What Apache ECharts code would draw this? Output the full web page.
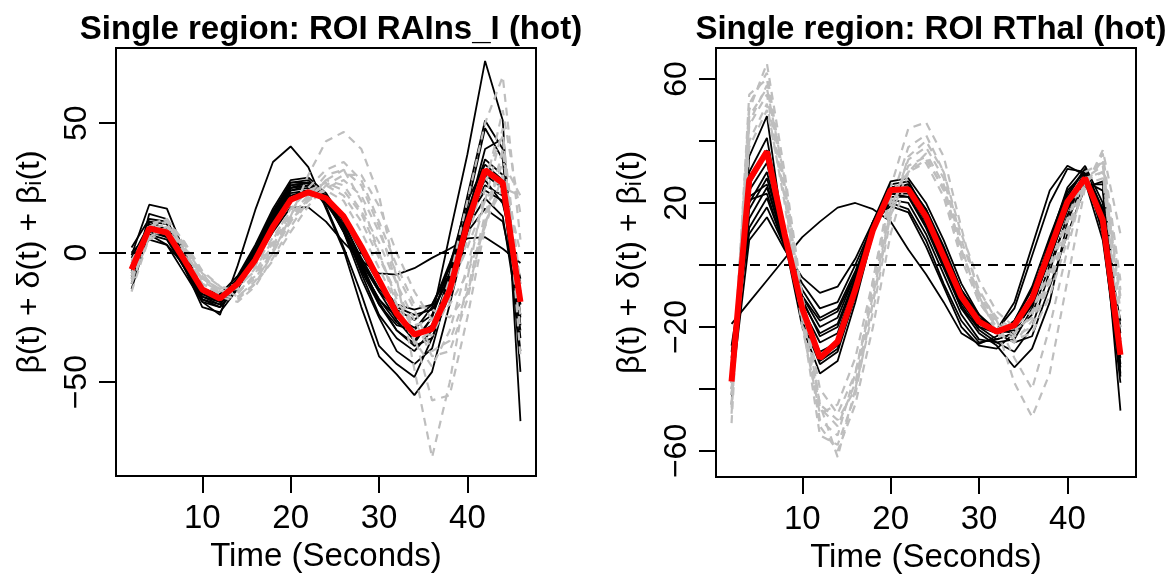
<!DOCTYPE html>
<html>
<head>
<meta charset="utf-8">
<script src="https://cdn.jsdelivr.net/npm/echarts@6/dist/echarts.min.js"></script>
<style>html,body{margin:0;padding:0;background:#fff}#c{width:1171px;height:575px}</style>
</head>
<body>
<div id="c"></div>
<script>
// ---------- data ----------
const time = [2,4,6,8,10,12,14,16,18,20,22,24,26,28,30,32,34,36,38,40,42,44,46];

const titleLeft = 'Single region: ROI RAIns_I (hot)';
const titleRight = 'Single region: ROI RThal (hot)';
const xName = 'Time (Seconds)';
const yName = 'β(t) + δ(t) + βᵢ(t)';
const xTicks = [10, 20, 30, 40];
const yTicksLeft = [-50, 0, 50];
const yTicksRight = [-60, -40, -20, 0, 20, 40, 60];
const yLabelsRight = [-60, -20, 20, 60];

// Left panel (RAIns_I)
const leftMean = [-6.5, 9.4, 7.8, -3, -14.2, -17.7, -12, -2.8, 10, 20.4, 23.3, 21, 14, 2.3, -10.6, -23.5, -31.6, -29.4, -14.5, 11.4, 31.8, 26.9, -19];
const leftB1  = [-10, 12, 9, -4, -16, -19, -12, 0, 14, 25, 26, 20, 10, -5, -20, -30, -35, -25, 7, 38, 74, 51, -65];
const leftB2  = [0, 7, 3, -8, -19, -24, -5, 16.5, 35, 41, 33, 17, 1, -21, -40, -47, -55, -46, -20, 8, 30, 28, -25];
const leftB3  = [-3, 5, 3, -5, -15, -18, -12, -3, 8, 17.5, 17.5, 12, 4, -3, -8, -8.5, -6, -2, 1.5, 5.5, 6, 1.5, -4];
const leftB4  = [-12, 15, 13, -3, -18, -20, -11, 1, 15, 26, 27, 22, 10, -8, -24, -33, -38, -30, -8, 22, 51, 40, -46];
const leftB5  = [-8, 12, 11, -2, -16, -18, -10, 2, 16, 27, 28, 21, 8, -10, -25, -38, -43, -37, -12, 18, 48, 36, -33];
const leftB6  = [-5, 10, 9, -3, -15, -17, -11, 0, 14, 26, 27, 22, 10, -6, -18, -27, -32, -28, -10, 16, 36, 30, -24];
const leftB7  = [-14, 8, 6, -6, -19, -21, -14, -2, 12, 24, 26, 22, 12, -3, -15, -26, -34, -25, -5, 20, 34, 28, -20];
const leftB8  = [-2, 11, 9, -4, -17, -19, -12, -1, 13, 25, 26, 20, 8, -7, -20, -28, -30, -21, -4, 14, 26, 22, -15];
const leftB9  = [-6, 9, 7, -5, -15, -17, -10, 0, 13, 24, 25, 19, 9, -4, -15, -22, -26, -20, -6, 13, 24, 20, -12];
const leftB10 = [2, 13, 12, -1, -14, -18, -10, 2, 15, 27, 27, 21, 8, -6, -18, -25, -29, -24, -8, 10, 21, 14, -30];
const leftB11 = [-9, 7, 5, -6, -17, -20, -12, -2, 11, 23, 24, 20, 11, -2, -14, -21, -24, -22, -10, 8, 17, 12, -20];
const leftB12 = [-4, 10, 8, -5, -18, -21, -13, -2, 12, 25, 27, 18, 2, -16, -36, -43, -48, -33, -12, 12, 30, 25, -38];
const leftB13 = [-1, 18.5, 17, 0, -14, -16, -9, 3, 17, 28, 29, 23, 12, -4, -19, -30, -36, -33, -16, 14, 40, 44, -28];
const leftB14 = [-7, 9, 6, -6, -21, -23, -14, -3, 10, 22, 24, 21, 13, 0, -12, -20, -22, -20, -8, 16, 28, 19, -10];
const leftG1  = [-12, 6, 12, 4, -8, -16, -18, -12, 0, 14, 30, 43, 46.6, 40, 22, -10, -45, -79, -50, -10, 25, 55, 15];
const leftG2  = [-5, 10, 12, 2, -10, -14, -16, -8, 4, 15, 22, 30, 32, 20, 0, -20, -35, -30, -10, 20, 50, 68, 5];
const leftG3  = [-15, 6, 10, 3, -9, -17, -19, -13, -2, 10, 20, 28, 32, 26, 10, -12, -32, -57, -55, -25, 10, 40, -20];
const leftG4  = [-3, 9, 11, 1, -11, -15, -14, -6, 5, 17, 24, 27, 24, 15, 0, -18, -30, -32, -18, 5, 30, 45, -12];
const leftG5  = [-8, 11, 13, 4, -7, -13, -17, -11, 0, 12, 20, 25, 28, 22, 8, -8, -22, -38, -34, -15, 15, 35, 22];
const leftG6  = [-10, 5, 9, 1, -12, -16, -15, -9, 2, 13, 22, 26, 22, 12, -2, -16, -28, -26, -14, 2, 20, 30, -30];
const leftG7  = [-6, 8, 10, 0, -10, -14, -12, -5, 6, 16, 25, 32, 35, 28, 12, -5, -20, -22, -25, -16, 12, 25, 22];
const leftG8  = [-11, 7, 8, -1, -12, -16, -13, -7, 3, 14, 21, 24, 20, 8, -6, -20, -34, -44, -30, -5, 20, 48, -40];
const leftG9  = [-4, 10, 13, 3, -9, -15, -17, -12, -3, 8, 18, 26, 30, 30, 18, 0, -15, -26, -20, -8, 10, 30, 0];
const leftG10 = [-9, 9, 11, 2, -8, -13, -15, -10, 1, 12, 21, 28, 26, 16, 4, -12, -26, -40, -38, -18, 12, 40, -25];

// Right panel (RThal)
const rightMean = [-37.6, 27.4, 36.6, 10, -14, -30, -24.7, -8, 11.3, 24.2, 24.4, 15.6, 2.7, -10.2, -18.3, -21.5, -19.4, -10.8, 4.8, 20.4, 28, 14.5, -29];
const rightB0  = [-19, -12, -5, 2, 9, 14, 18.5, 20, 18, 14, 5, -3, -12, -22, -25.5, -23, -18, -8, 6, 18, 27, 8, -33];
const rightB1  = [-45, 35, 48, 8, -20, -35, -31, -12, 10, 26, 27, 17, 3, -12, -20, -24, -22, -12, 5, 22, 31, 18, -47];
const rightB2  = [-38, 30, 41, 9, -18, -32, -28, -10, 11, 25, 25, 16, 2, -11, -19, -22, -20, -10, 8, 25, 32, 20, -36];
const rightB3  = [-34, 24, 33, 8, -15, -28, -25, -8, 12, 24, 24, 15, 1, -13, -21, -25, -28, -20, -2, 16, 29, 15, -30];
const rightB4  = [-30, 20, 30, 7, -14, -25, -22, -6, 13, 23, 23, 14, 0, -14, -22, -26, -33, -27, -12, 14, 28, 12, -25];
const rightB5  = [-36, 18, 28, 8, -12, -22, -19, -4, 14, 25, 26, 18, 5, -8, -17, -21, -14, 3, 20, 31, 30, 18, -20];
const rightB6  = [-28, 15, 25, 7, -10, -20, -17, -3, 13, 22, 22, 13, 0, -12, -19, -21, -12, 6, 24, 32, 29, 15, -28];
const rightB7  = [-32, 12, 21.6, 6, -8, -17, -14, -2, 12, 21, 20, 10, -3, -16, -24, -25, -24, -14, 3, 20, 30, 10, -38];
const rightB8  = [-26, 10, 18.6, 6, -6, -14, -12, 0, 13, 20, 18, 8, -6, -18, -25, -24, -22, -10, 7, 23, 31, 14, -22];
const rightB9  = [-40, 8, 15.4, 5, -4, -9, -7, 2, 14, 19, 17, 6, -7, -20, -26, -27, -22, -12, 2, 18, 29, 11, -18];
const rightB10 = [-42, 28, 37, 9, -16, -30, -26, -9, 10, 24, 25, 17, 4, -10, -18, -22, -21, -13, 2, 18, 27, 24, -32];
const rightB11 = [-35, 26, 36, 10, -15, -31, -27, -10, 11, 25, 26, 18, 6, -8, -16, -21, -22, -16, 0, 15, 26, 26, -35];
const rightB12 = [-33, 22, 26, 7, -11, -23, -20, -5, 13, 23, 22, 12, -1, -14, -20, -22, -18, -7, 9, 24, 30, 17, -27];
const rightB13 = [-37, 21, 23, 6, -10, -18, -15, -3, 14, 27, 28, 20, 8, -6, -16, -22, -25, -23, -7, 10, 25, 27, -24];
const rightG1  = [-51, 50, 65, 30, -10, -45, -62, -40, -5, 25, 44, 46, 35, 12, -10, -22, -25, -18, -5, 10, 25, 36, -5];
const rightG2  = [-45, 55, 60, 25, -15, -50, -55, -35, -8, 20, 38, 42, 30, 8, -8, -18, -30, -40, -20, 5, 28, 30, -10];
const rightG3  = [-40, 48, 57, 28, -12, -45, -50, -40, -15, 15, 35, 40, 30, 10, -5, -15, -20, -15, 0, 15, 30, 33, -15];
const rightG4  = [-48, 45, 55, 22, -18, -55, -58, -42, -12, 18, 34, 38, 28, 6, -12, -20, -38, -49, -35, -5, 25, 37, 10];
const rightG5  = [-38, 40, 52, 20, -20, -48, -45, -30, -5, 22, 30, 33, 22, 2, -12, -20, -24, -22, -10, 8, 26, 28, -20];
const rightG6  = [-42, 52, 62, 26, -14, -52, -60, -45, -20, 10, 30, 36, 26, 4, -10, -18, -22, -16, -2, 14, 28, 32, -12];
const rightG7  = [-36, 38, 50, 22, -10, -40, -48, -35, -10, 18, 32, 35, 24, 4, -9, -17, -21, -17, -4, 12, 27, 30, -25];
const rightG8  = [-46, 46, 58, 24, -16, -46, -52, -38, -12, 16, 30, 34, 25, 5, -11, -19, -23, -20, -6, 10, 26, 34, -8];

const leftBlack = [leftB1, leftB2, leftB3, leftB4, leftB5, leftB6, leftB7, leftB8, leftB9, leftB10, leftB11, leftB12, leftB13, leftB14];
const leftGray = [leftG1, leftG2, leftG3, leftG4, leftG5, leftG6, leftG7, leftG8, leftG9, leftG10];
const rightBlack = [rightB0, rightB1, rightB2, rightB3, rightB4, rightB5, rightB6, rightB7, rightB8, rightB9, rightB10, rightB11, rightB12, rightB13];
const rightGray = [rightG1, rightG2, rightG3, rightG4, rightG5, rightG6, rightG7, rightG8];

// ---------- chart ----------
const FONT = "'Liberation Sans', 'DejaVu Sans', sans-serif";
const chart = echarts.init(document.getElementById('c'), null, {renderer: 'canvas'});

function pts(vals) { return time.map((t, i) => [t, vals[i]]); }

function xAxisCfg(gi) {
  return {
    gridIndex: gi, type: 'value', min: 0.24, max: 47.76, position: 'bottom',
    name: xName, nameLocation: 'middle', nameGap: 64,
    nameTextStyle: {fontFamily: FONT, fontSize: 33, color: '#000'},
    axisLine: {show: false, onZero: false},
    axisTick: {show: true, inside: false, length: 17, lineStyle: {color: '#000', width: 2}, customValues: xTicks},
    axisLabel: {show: true, margin: 26, fontFamily: FONT, fontSize: 33, color: '#000', customValues: xTicks},
    splitLine: {show: false}
  };
}
function yAxisCfg(gi, min, max, ticks, labels) {
  return {
    gridIndex: gi, type: 'value', min: min, max: max, position: 'left',
    name: yName, nameLocation: 'middle', nameGap: 70, nameRotate: 90,
    nameTextStyle: {fontFamily: FONT, fontSize: 32, color: '#000'},
    axisLine: {show: false, onZero: false},
    axisTick: {show: true, inside: false, length: 17, lineStyle: {color: '#000', width: 2}, customValues: ticks},
    axisLabel: {show: true, rotate: 90, margin: 23, fontFamily: FONT, fontSize: 32, color: '#000', customValues: labels,
      formatter: v => (v < 0 ? '\u2212' + Math.abs(v) : String(v))},
    splitLine: {show: false}
  };
}

const series = [];
function addPanel(gi, black, gray, mean) {
  black.forEach(v => series.push({type: 'line', xAxisIndex: gi, yAxisIndex: gi, data: pts(v), showSymbol: false, silent: true,
    lineStyle: {color: '#000', width: 1.8}, z: 2}));
  gray.forEach(v => series.push({type: 'line', xAxisIndex: gi, yAxisIndex: gi, data: pts(v), showSymbol: false, silent: true,
    lineStyle: {color: '#BEBEBE', width: 2.2, type: [8, 6]}, z: 3}));
  series.push({type: 'line', xAxisIndex: gi, yAxisIndex: gi, data: [], silent: true, z: 4,
    markLine: {silent: true, symbol: 'none', label: {show: false},
      lineStyle: {color: '#000', width: 2, type: [10, 7]}, data: [{yAxis: 0}]}});
  series.push({type: 'line', xAxisIndex: gi, yAxisIndex: gi, data: pts(mean), showSymbol: false, silent: true,
    lineStyle: {color: '#FF0000', width: 6}, z: 5});
}
addPanel(0, leftBlack, leftGray, leftMean);
addPanel(1, rightBlack, rightGray, rightMean);

chart.setOption({
  animation: false,
  backgroundColor: '#fff',
  title: [
    {text: titleLeft, left: 326, top: 8, textAlign: 'center', textStyle: {fontFamily: FONT, fontWeight: 'bold', fontSize: 33, color: '#000'}},
    {text: titleRight, left: 926, top: 8, textAlign: 'center', textStyle: {fontFamily: FONT, fontWeight: 'bold', fontSize: 33, color: '#000'}}
  ],
  grid: [
    {left: 116, top: 48, width: 420, height: 428, show: true, borderColor: '#000', borderWidth: 2, backgroundColor: 'transparent', outerBoundsMode: 'none'},
    {left: 716, top: 48, width: 420, height: 429, show: true, borderColor: '#000', borderWidth: 2, backgroundColor: 'transparent', outerBoundsMode: 'none'}
  ],
  xAxis: [xAxisCfg(0), xAxisCfg(1)],
  yAxis: [yAxisCfg(0, -86.2, 79.0, yTicksLeft, yTicksLeft), yAxisCfg(1, -68.4, 70.0, yTicksRight, yLabelsRight)],
  series: series
});
</script>
</body>
</html>
